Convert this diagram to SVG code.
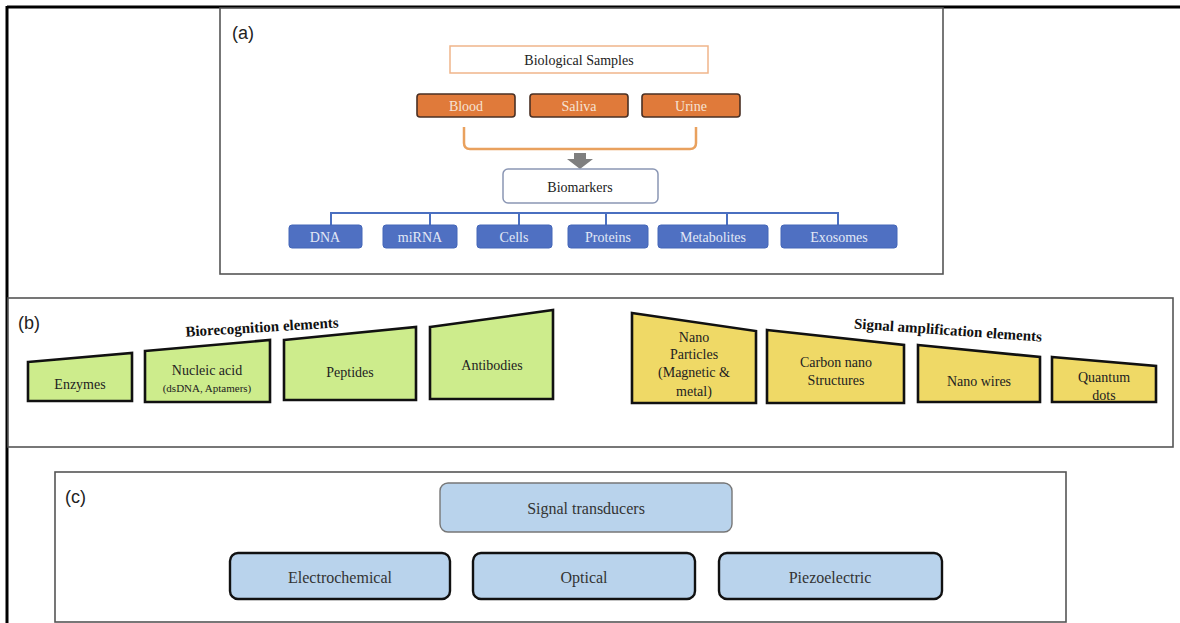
<svg xmlns="http://www.w3.org/2000/svg" width="1180" height="623" viewBox="0 0 1180 623">
<style>
.serif{font-family:"Liberation Serif","Times New Roman",serif;text-anchor:middle;dominant-baseline:central}
.lbl{font-family:"Liberation Sans",Arial,sans-serif;font-size:18px;fill:#222}
.panel{fill:#fff;stroke:#555;stroke-width:1.6}
.org{fill:#e07a3a;stroke:#4a3024;stroke-width:1.6}
.orgt{font-size:14px;fill:#f6e3d4}
.blu{fill:#4f70c2;stroke:#4466b8;stroke-width:1}
.blut{font-size:14px;fill:#e2e8f6}
.grn{fill:#cdec8c;stroke:#111;stroke-width:2.6;stroke-linejoin:miter}
.yel{fill:#efd966;stroke:#111;stroke-width:2.6;stroke-linejoin:miter}
.bt{font-size:14px;fill:#222}
.lb{fill:#b9d3ec;stroke:#111;stroke-width:2.4}
.lbt{font-size:16px;fill:#333}
.ttl{font-size:15px;font-weight:bold;fill:#111}
</style>
<g id="frame">
<line x1="7" y1="7" x2="1180" y2="7" stroke="#000" stroke-width="3"/>
<line x1="7" y1="6" x2="7" y2="623" stroke="#000" stroke-width="3"/>
</g>
<g id="panel-a">
<rect class="panel" x="220" y="8" width="723" height="266"/>
<text class="lbl" x="232" y="39">(a)</text>
</g>
<g id="panel-b">
<rect class="panel" x="8" y="298" width="1165" height="149"/>
<text class="lbl" x="18" y="329">(b)</text>
</g>
<g id="panel-c">
<rect class="panel" x="55" y="472" width="1011" height="150"/>
<text class="lbl" x="65" y="503">(c)</text>
</g>
<g id="connectors">
<path d="M464 127 V143 Q464 149 470 149 H690 Q696 149 696 143 V127" fill="none" stroke="#e9a15e" stroke-width="2.5"/>
<path d="M574 153 H586 V159 H593 L580 169 L567 159 H574 Z" fill="#7f7f7f"/>
<path d="M331 225 V213 H838 V225 M430 213 V225 M519 213 V225 M606 213 V225 M727 213 V225" fill="none" stroke="#4a6fc0" stroke-width="2"/>
</g>
<g id="biological-samples">
<rect x="450" y="46" width="258" height="27" fill="#fff" stroke="#f0b58a" stroke-width="1.5"/>
<text class="serif bt" x="579" y="60">Biological Samples</text>
</g>
<g id="blood"><rect class="org" x="417" y="94" width="98" height="23" rx="3"/><text class="serif orgt" x="466" y="106">Blood</text></g>
<g id="saliva"><rect class="org" x="530" y="94" width="98" height="23" rx="3"/><text class="serif orgt" x="579" y="106">Saliva</text></g>
<g id="urine"><rect class="org" x="642" y="94" width="98" height="23" rx="3"/><text class="serif orgt" x="691" y="106">Urine</text></g>
<g id="biomarkers">
<rect x="503" y="169" width="155" height="34" rx="5" fill="#fff" stroke="#8a96b4" stroke-width="1.5"/>
<text class="serif bt" x="580" y="187">Biomarkers</text>
</g>
<g id="dna"><rect class="blu" x="289" y="225" width="73" height="23" rx="3"/><text class="serif blut" x="325" y="237">DNA</text></g>
<g id="mirna"><rect class="blu" x="383" y="225" width="74" height="23" rx="3"/><text class="serif blut" x="420" y="237">miRNA</text></g>
<g id="cells"><rect class="blu" x="477" y="225" width="75" height="23" rx="3"/><text class="serif blut" x="514" y="237">Cells</text></g>
<g id="proteins"><rect class="blu" x="568" y="225" width="80" height="23" rx="3"/><text class="serif blut" x="608" y="237">Proteins</text></g>
<g id="metabolites"><rect class="blu" x="658" y="225" width="110" height="23" rx="3"/><text class="serif blut" x="713" y="237">Metabolites</text></g>
<g id="exosomes"><rect class="blu" x="781" y="225" width="116" height="23" rx="3"/><text class="serif blut" x="839" y="237">Exosomes</text></g>
<g id="biorecognition-title">
<text class="serif ttl" x="262" y="327" transform="rotate(-3.5 262 327)">Biorecognition elements</text>
</g>
<g id="enzymes"><path class="grn" d="M28 362 L132 353 L132 401 L28 401 Z"/><text class="serif bt" x="80" y="384">Enzymes</text></g>
<g id="nucleic-acid"><path class="grn" d="M145 351 L270 340 L270 402 L145 402 Z"/><text class="serif bt" x="207" y="370">Nucleic acid</text><text class="serif" x="207" y="388" font-size="11" fill="#222">(dsDNA, Aptamers)</text></g>
<g id="peptides"><path class="grn" d="M284 340 L416 327 L416 400 L284 400 Z"/><text class="serif bt" x="350" y="372">Peptides</text></g>
<g id="antibodies"><path class="grn" d="M430 327 L553 310 L553 399 L430 399 Z"/><text class="serif bt" x="492" y="365">Antibodies</text></g>
<g id="amplification-title">
<text class="serif ttl" x="948" y="330" transform="rotate(4 948 330)">Signal amplification elements</text>
</g>
<g id="nano-particles"><path class="yel" d="M632 313 L756 331 L756 403 L632 403 Z"/>
<text class="serif bt" x="694" y="337">Nano</text><text class="serif bt" x="694" y="354">Particles</text><text class="serif bt" x="694" y="372">(Magnetic &amp;</text><text class="serif bt" x="694" y="391">metal)</text></g>
<g id="carbon-nano"><path class="yel" d="M767 330 L904 345 L904 403 L767 403 Z"/><text class="serif bt" x="836" y="362">Carbon nano</text><text class="serif bt" x="836" y="380">Structures</text></g>
<g id="nano-wires"><path class="yel" d="M918 345 L1040 357 L1040 402 L918 402 Z"/><text class="serif bt" x="979" y="381">Nano wires</text></g>
<g id="quantum-dots"><path class="yel" d="M1052 357 L1156 366 L1156 402 L1052 402 Z"/><text class="serif bt" x="1104" y="377">Quantum</text><text class="serif bt" x="1104" y="395">dots</text></g>
<g id="signal-transducers"><rect x="440" y="483" width="292" height="49" rx="8" fill="#b9d3ec" stroke="#777" stroke-width="1.4"/><text class="serif lbt" x="586" y="508">Signal transducers</text></g>
<g id="electrochemical"><rect class="lb" x="230" y="553" width="220" height="46" rx="8"/><text class="serif lbt" x="340" y="577">Electrochemical</text></g>
<g id="optical"><rect class="lb" x="473" y="553" width="222" height="46" rx="8"/><text class="serif lbt" x="584" y="577">Optical</text></g>
<g id="piezoelectric"><rect class="lb" x="719" y="553" width="223" height="46" rx="8"/><text class="serif lbt" x="830" y="577">Piezoelectric</text></g>
</svg>
